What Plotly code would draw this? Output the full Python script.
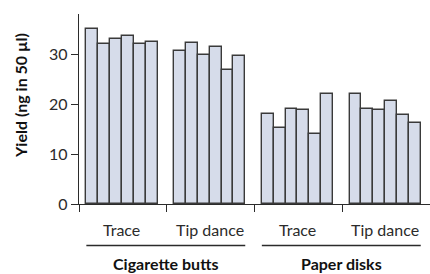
import plotly.graph_objects as go

# ---- data ----
groups = ["Trace", "Tip dance", "Trace", "Tip dance"]
supergroups = ["Cigarette butts", "Paper disks"]
values = [
    [35.0, 32.0, 33.1, 33.7, 32.0, 32.4],   # Cigarette butts - Trace
    [30.7, 32.2, 29.9, 31.5, 26.8, 29.7],   # Cigarette butts - Tip dance
    [18.0, 15.3, 19.0, 18.9, 14.1, 22.1],   # Paper disks - Trace
    [22.1, 19.1, 18.9, 20.7, 17.8, 16.3],   # Paper disks - Tip dance
]
y_ticks = [0, 10, 20, 30]
y_title = "Yield (ng in 50 µl)"

# ---- layout constants ----
W, H = 430, 274
L, R, T, B = 79, 0, 14, 70
G = 7.4          # group width in bar units
OFF = 0.62       # offset of first bar inside a group
FONT = "Lato"
INK = "#2b2b2b"
FILL = "#d6dcea"

xs, ys = [], []
for gi, vals in enumerate(values):
    for j, v in enumerate(vals):
        xs.append(gi * G + OFF + j + 0.5)
        ys.append(v)

fig = go.Figure()
fig.add_trace(go.Bar(
    x=xs, y=ys, width=1.0,
    marker=dict(color=FILL, line=dict(color="#3a3a3a", width=1.4)),
    hoverinfo="skip",
))

ph = H - T - B
def py(pix):
    return (H - B - pix) / ph

annotations = []
for gi, name in enumerate(groups):
    n = len(values[gi])
    cx = gi * G + OFF + n / 2
    annotations.append(dict(x=cx, y=py(229.5), xref="x", yref="paper", text=name,
                            showarrow=False, xanchor="center", yanchor="middle",
                            font=dict(family=FONT, size=16, color=INK)))
shapes = []
for si, name in enumerate(supergroups):
    g0, g1 = 2 * si, 2 * si + 1
    x0 = g0 * G + OFF
    x1 = g1 * G + OFF + len(values[g1])
    shapes.append(dict(type="line", xref="x", yref="paper", x0=x0, x1=x1,
                       y0=py(245.5), y1=py(245.5), line=dict(color=INK, width=1.5)))
    annotations.append(dict(x=(x0 + x1) / 2, y=py(263.5), xref="x", yref="paper",
                            text="<b>%s</b>" % name, showarrow=False,
                            xanchor="center", yanchor="middle",
                            font=dict(family=FONT, size=16, color="#111")))
annotations.append(dict(x=-59 / (W - L - R), y=py(96), xref="paper", yref="paper",
                        text="<b>%s</b>" % y_title, textangle=-90, showarrow=False,
                        xanchor="center", yanchor="middle",
                        font=dict(family=FONT, size=16, color="#111")))

fig.update_layout(
    width=W, height=H,
    margin=dict(l=L, r=R, t=T, b=B, pad=0),
    paper_bgcolor="white", plot_bgcolor="white",
    showlegend=False,
    bargap=0,
    annotations=annotations, shapes=shapes,
    xaxis=dict(range=[0, 4 * G], showgrid=False, zeroline=False,
               showline=True, linecolor=INK, linewidth=1.3,
               tickmode="array", tickvals=[g * G for g in range(4)],
               ticktext=["", "", "", ""], ticks="outside", ticklen=7,
               tickwidth=1.3, tickcolor=INK, fixedrange=True),
    yaxis=dict(range=[0, 38.1], showgrid=False, zeroline=False,
               showline=True, linecolor=INK, linewidth=1.3,
               tickmode="array", tickvals=y_ticks,
               ticks="outside", ticklen=7, tickwidth=1.3, tickcolor=INK,
               tickfont=dict(family=FONT, size=16, color=INK), fixedrange=True),
)

fig.write_html("out.html", config={"displayModeBar": False},
               post_script="document.body.style.margin='0';document.body.style.overflow='hidden';")
